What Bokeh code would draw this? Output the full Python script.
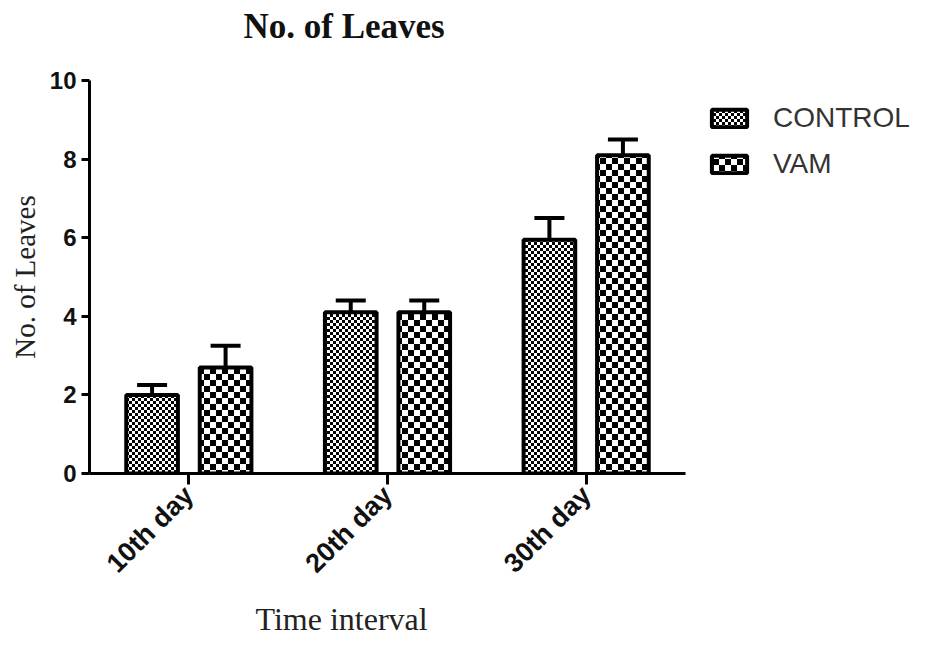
import math
import base64
from bokeh.plotting import figure
from bokeh.core.properties import value
from bokeh.layouts import column
from bokeh.models import (ColumnDataSource, FactorRange, Range1d, FixedTicker, Whisker,
                          TeeHead, Legend, LegendItem, Title, ImageURLTexture)
from bokeh.transform import dodge
from bokeh.embed import file_html
from bokeh.resources import INLINE

# ---- data ----
categories = ["10th day", "20th day", "30th day"]
control_mean = [2.0, 4.1, 5.95]
control_err = [0.25, 0.3, 0.55]
vam_mean = [2.7, 4.1, 8.1]
vam_err = [0.55, 0.3, 0.4]
y_ticks = [0, 2, 4, 6, 8, 10]
series_names = ["CONTROL", "VAM"]
chart_title = "No. of Leaves"
x_title = "Time interval"
y_title = "No. of Leaves"

src = ColumnDataSource(dict(
    cat=categories,
    control=control_mean,
    control_up=[m + e for m, e in zip(control_mean, control_err)],
    vam=vam_mean,
    vam_up=[m + e for m, e in zip(vam_mean, vam_err)],
))


def checker_texture(n):
    h = n // 2
    svg = (f'<svg xmlns="http://www.w3.org/2000/svg" width="{n}" height="{n}" shape-rendering="crispEdges">'
           f'<rect x="0" y="0" width="{n}" height="{n}" fill="white"/>'
           f'<rect x="0" y="0" width="{h}" height="{h}" fill="black"/>'
           f'<rect x="{h}" y="{h}" width="{h}" height="{h}" fill="black"/></svg>')
    url = "data:image/svg+xml;base64," + base64.b64encode(svg.encode()).decode()
    return ImageURLTexture(url=url)


fine_checker = checker_texture(6)
coarse_checker = checker_texture(12)
ctrl_style = dict(fill_color="white", line_color="black", line_width=4,
                  hatch_pattern=value("fine"), hatch_extra={"fine": fine_checker}, hatch_color="black")
vam_style = dict(fill_color="white", line_color="black", line_width=4,
                 hatch_pattern=value("coarse"), hatch_extra={"coarse": coarse_checker}, hatch_color="black")

off = 0.185
bw = 0.26

# ---- title strip (a Title panel on a small empty figure) ----
p_title = figure(width=935, height=50, min_border=0, toolbar_location=None, output_backend="svg",
                 title=None, x_axis_location=None, y_axis_location=None,
                 x_range=Range1d(0, 1), y_range=Range1d(0, 1))
p_title.grid.visible = False
p_title.outline_line_color = None
p_title.add_layout(Title(text=chart_title, align="left", offset=154, standoff=8,
                         text_font="Liberation Serif", text_font_size="35px", text_font_style="bold",
                         text_color="#111111"), "above")

# ---- main chart ----
p = figure(frame_width=596, frame_height=393, title=None,
           x_range=FactorRange(factors=categories, range_padding=0),
           y_range=Range1d(0, 10), output_backend="svg", toolbar_location=None,
           min_border_left=89, min_border_right=250, min_border_top=30, min_border_bottom=164)

r_ctrl = p.vbar(x=dodge("cat", -off, range=p.x_range), top="control", width=bw, bottom=0, source=src,
                **ctrl_style)
r_vam = p.vbar(x=dodge("cat", off, range=p.x_range), top="vam", width=bw, bottom=0, source=src,
               **vam_style)

for col, dx in (("control", -off), ("vam", off)):
    w = Whisker(base=dodge("cat", dx, range=p.x_range), lower=col, upper=col + "_up", source=src,
                dimension="height", line_width=4, line_color="black",
                lower_head=None, upper_head=TeeHead(size=30, line_width=4, line_color="black"))
    p.add_layout(w)

p.xgrid.visible = False
p.ygrid.visible = False
p.outline_line_color = None

p.yaxis.ticker = FixedTicker(ticks=y_ticks)
p.yaxis.minor_tick_line_color = None
p.yaxis.major_tick_in = 0
p.yaxis.major_tick_out = 8
for ax in (p.xaxis[0], p.yaxis[0]):
    ax.axis_line_width = 3
    ax.major_tick_line_width = 3
    ax.axis_line_color = "black"
    ax.major_tick_line_color = "black"
    ax.major_label_text_font = "Liberation Sans"
    ax.major_label_text_font_style = "bold"
    ax.major_label_text_color = "#111111"

p.yaxis.major_label_text_font_size = "24px"
p.yaxis.major_label_standoff = 5
p.yaxis.axis_label = y_title
p.yaxis.axis_label_text_font = "Liberation Serif"
p.yaxis.axis_label_text_font_style = "normal"
p.yaxis.axis_label_text_font_size = "29px"
p.yaxis.axis_label_text_color = "#222222"
p.yaxis.axis_label_standoff = 6

p.xaxis.major_label_text_font_size = "27px"
p.xaxis.major_label_orientation = math.pi / 4
p.xaxis.major_tick_in = 0
p.xaxis.major_tick_out = 11
p.xaxis.major_label_standoff = 6

xlab = Title(text=x_title, align="left", offset=166, text_font="Liberation Serif",
             text_font_size="32px", text_font_style="normal", text_color="#222222", standoff=12)
p.add_layout(xlab, "below")

legend = Legend(items=[LegendItem(label=series_names[0], renderers=[r_ctrl]),
                       LegendItem(label=series_names[1], renderers=[r_vam])],
                location="top_left", margin=22, padding=0, spacing=14,
                glyph_width=44, glyph_height=22, label_standoff=22,
                label_text_font="Liberation Sans", label_text_font_size="28px",
                label_text_color="#333333", border_line_color=None,
                background_fill_alpha=0)
p.add_layout(legend, "right")

layout = column(p_title, p)
open("out.html", "w").write(file_html(layout, INLINE))
